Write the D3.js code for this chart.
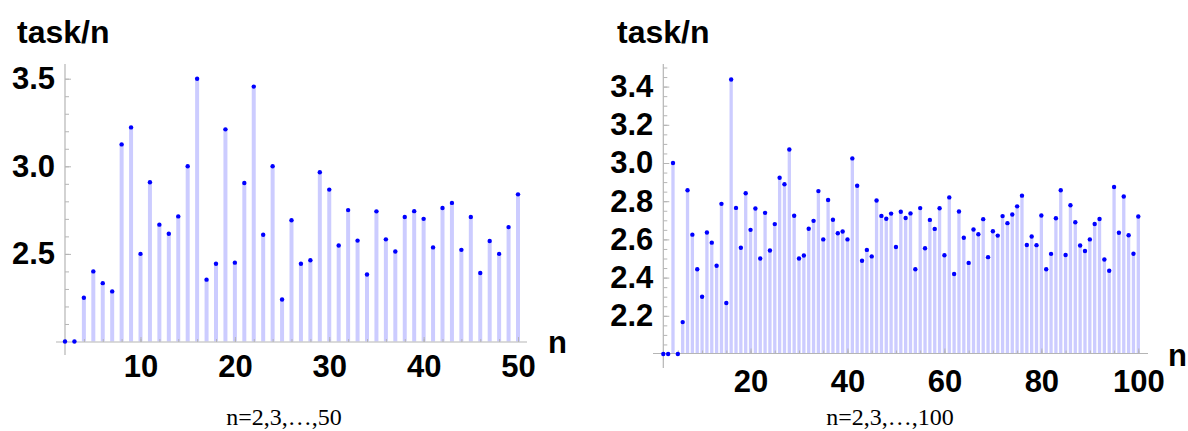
<!DOCTYPE html>
<html>
<head>
<meta charset="utf-8">
<script src="https://cdn.jsdelivr.net/npm/d3@7"></script>
<style>
  body { margin: 0; background: #fff; }
  text { font-family: "Liberation Sans", Arial, sans-serif; }
</style>
</head>
<body>
<svg id="chart" width="1188" height="431"></svg>
<script>
// values of task/n (n starts at 2)
const leftValues = [
  2.0, 2.0, 2.25, 2.4, 2.333, 2.286, 3.125, 3.222, 2.5, 2.909,
  2.667, 2.615, 2.714, 3.0, 3.5, 2.353, 2.444, 3.211, 2.45, 2.905,
  3.455, 2.609, 3.0, 2.24, 2.692, 2.444, 2.464, 2.966, 2.867, 2.548,
  2.75, 2.576, 2.382, 2.743, 2.583, 2.514, 2.711, 2.744, 2.7, 2.537,
  2.762, 2.791, 2.523, 2.711, 2.391, 2.574, 2.5, 2.653, 2.84
];
const rightValues = [
  2.0, 2.0, 3.0, 2.0, 2.167, 2.857, 2.625, 2.444, 2.3, 2.636,
  2.583, 2.462, 2.786, 2.267, 3.4375, 2.765, 2.556, 2.842, 2.65, 2.762,
  2.5, 2.739, 2.542, 2.68, 2.923, 2.889, 3.071, 2.724, 2.5, 2.516,
  2.656, 2.697, 2.853, 2.6, 2.806, 2.703, 2.632, 2.641, 2.6, 3.024,
  2.881, 2.488, 2.545, 2.511, 2.804, 2.723, 2.708, 2.735, 2.56, 2.745,
  2.712, 2.736, 2.444, 2.764, 2.554, 2.702, 2.655, 2.763, 2.517, 2.82,
  2.419, 2.746, 2.609, 2.477, 2.652, 2.627, 2.706, 2.507, 2.643, 2.62,
  2.722, 2.685, 2.73, 2.773, 2.829, 2.571, 2.615, 2.57, 2.725, 2.444,
  2.524, 2.711, 2.857, 2.518, 2.779, 2.69, 2.568, 2.539, 2.6, 2.681,
  2.707, 2.495, 2.436, 2.874, 2.635, 2.825, 2.622, 2.525, 2.72
];

const leftXTicks = [10, 20, 30, 40, 50];
const leftXMinor = d3.range(2, 51, 2);
const leftYTicks = [2.5, 3.0, 3.5];
const leftYMinor = d3.range(2.1, 3.55, 0.1);

const rightXTicks = [20, 40, 60, 80, 100];
const rightXMinor = d3.range(5, 101, 5);
const rightYTicks = [2.2, 2.4, 2.6, 2.8, 3.0, 3.2, 3.4];
const rightYMinor = d3.range(2.05, 3.51, 0.05);

const yTitle = "task/n";
const xTitle = "n";
const leftCaption = "n=2,3,…,50";
const rightCaption = "n=2,3,…,100";

const svg = d3.select("#chart");
svg.append("rect").attr("width", 1188).attr("height", 431).attr("fill", "#fff");

const axisColor = "#b5b5b5";

function drawPanel(p) {
  const x = d3.scaleLinear().domain(p.xDomain).range(p.xRange);
  const y = d3.scaleLinear().domain(p.yDomain).range(p.yRange);
  const g = svg.append("g");
  const data = p.values.map((v, i) => ({ n: i + 2, v: v }));

  // stems
  g.selectAll("line.stem").data(data.filter(d => d.v > p.yDomain[0]))
    .enter().append("line")
    .attr("class", "stem")
    .attr("x1", d => x(d.n)).attr("x2", d => x(d.n))
    .attr("y1", y(p.yDomain[0])).attr("y2", d => y(d.v))
    .attr("stroke", "#ccccff")
    .attr("stroke-width", p.stemWidth);

  // x axis: minor + major ticks pointing up
  const xMinor = g.append("g").attr("transform", `translate(0,${p.xAxisY})`)
    .call(d3.axisBottom(x).tickValues(p.xMinor).tickSize(-3).tickFormat(""));
  const xMajor = g.append("g").attr("transform", `translate(0,${p.xAxisY})`)
    .call(d3.axisBottom(x).tickValues(p.xTicks).tickSize(-5).tickPadding(p.xLabelPad));
  // y axis: ticks pointing right
  const yMinor = g.append("g").attr("transform", `translate(${p.yAxisX},0)`)
    .call(d3.axisLeft(y).tickValues(p.yMinor).tickSize(-4).tickFormat(""));
  const yMajor = g.append("g").attr("transform", `translate(${p.yAxisX},0)`)
    .call(d3.axisLeft(y).tickValues(p.yTicks).tickSize(-6).tickPadding(10)
      .tickFormat(d3.format(".1f")));

  [xMinor, xMajor, yMinor, yMajor].forEach(a => {
    a.select(".domain").remove();
    a.selectAll(".tick line").attr("stroke", axisColor);
  });
  [xMajor, yMajor].forEach(a => {
    a.selectAll(".tick text")
      .attr("fill", "#000")
      .attr("font-size", 31)
      .attr("font-weight", "bold")
      .attr("font-family", "'Liberation Sans', Arial, sans-serif");
  });

  // axis lines
  g.append("line")
    .attr("x1", p.xAxisExtent[0]).attr("x2", p.xAxisExtent[1])
    .attr("y1", p.xAxisY).attr("y2", p.xAxisY)
    .attr("stroke", axisColor).attr("stroke-width", 1.2);
  g.append("line")
    .attr("x1", p.yAxisX).attr("x2", p.yAxisX)
    .attr("y1", p.yAxisExtent[0]).attr("y2", p.yAxisExtent[1])
    .attr("stroke", axisColor).attr("stroke-width", 1.2);

  // points
  g.selectAll("circle.pt").data(data)
    .enter().append("circle")
    .attr("class", "pt")
    .attr("cx", d => x(d.n)).attr("cy", d => y(d.v))
    .attr("r", 2.2)
    .attr("fill", "#0000ff");

  // titles
  g.append("text")
    .attr("x", p.yTitlePos[0]).attr("y", p.yTitlePos[1])
    .attr("font-size", 32).attr("font-weight", "bold")
    .text(yTitle);
  g.append("text")
    .attr("x", p.xTitlePos[0]).attr("y", p.xTitlePos[1])
    .attr("font-size", 31).attr("font-weight", "bold")
    .text(xTitle);
  g.append("text")
    .attr("x", p.captionPos[0]).attr("y", p.captionPos[1])
    .attr("text-anchor", "middle")
    .attr("font-size", 24)
    .style("font-family", "'Liberation Serif', 'Times New Roman', serif")
    .text(p.caption);
}

drawPanel({
  values: leftValues,
  xDomain: [2, 50], xRange: [65, 518],
  yDomain: [2, 3.5], yRange: [341.5, 78.7],
  xTicks: leftXTicks, xMinor: leftXMinor,
  yTicks: leftYTicks, yMinor: leftYMinor,
  xAxisY: 342, yAxisX: 65,
  xAxisExtent: [56, 527], yAxisExtent: [64, 355],
  xLabelPad: 13,
  stemWidth: 4,
  yTitlePos: [17, 43], xTitlePos: [548, 353],
  caption: leftCaption, captionPos: [284, 425]
});

drawPanel({
  values: rightValues,
  xDomain: [2, 100], xRange: [663.3, 1138.3],
  yDomain: [2, 3], yRange: [354, 163],
  xTicks: rightXTicks, xMinor: rightXMinor,
  yTicks: rightYTicks, yMinor: rightYMinor,
  xAxisY: 353.5, yAxisX: 663.3,
  xAxisExtent: [653, 1148], yAxisExtent: [64, 368],
  xLabelPad: 16,
  stemWidth: 3.3,
  yTitlePos: [617, 43], xTitlePos: [1168, 366],
  caption: rightCaption, captionPos: [890, 425]
});
</script>
</body>
</html>
